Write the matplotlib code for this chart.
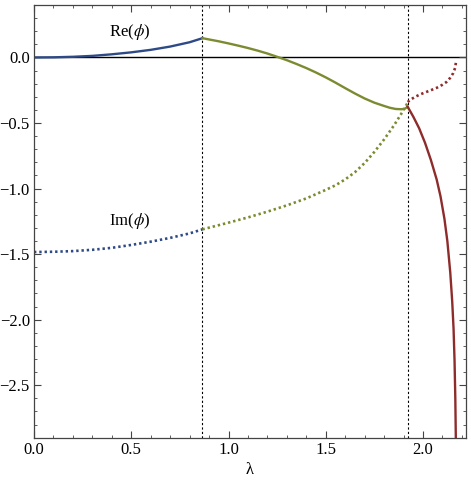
import matplotlib
matplotlib.use("Agg")
import matplotlib.pyplot as plt
from matplotlib.ticker import MultipleLocator, FuncFormatter

plt.rcParams['font.family'] = ['Liberation Serif', 'DejaVu Serif']
plt.rcParams['mathtext.fontset'] = 'stix'

# branch points (dotted verticals)
lam_a = 0.866
lam_b = 1.921

# blue branch, 0 .. lam_a
x_blue = [0.0, 0.1, 0.2, 0.3, 0.4, 0.5, 0.6, 0.7, 0.8, 0.866]
re_blue = [0.0, 0.001, 0.005, 0.012, 0.024, 0.039, 0.058, 0.083, 0.116, 0.147]
im_blue = [-1.484, -1.482, -1.477, -1.467, -1.452, -1.430, -1.405, -1.376, -1.342, -1.311]

# green branch, lam_a .. lam_b
x_green_re = [0.866, 0.95, 1.0, 1.05, 1.1, 1.15, 1.2, 1.25, 1.3, 1.35, 1.4, 1.45,
              1.5, 1.55, 1.6, 1.65, 1.7, 1.75, 1.8, 1.83, 1.86, 1.89, 1.905, 1.921]
re_green = [0.147, 0.123, 0.107, 0.090, 0.072, 0.052, 0.030, 0.005, -0.021, -0.050,
            -0.081, -0.115, -0.152, -0.192, -0.234, -0.275, -0.313, -0.345, -0.370,
            -0.384, -0.393, -0.395, -0.391, -0.378]
x_green_im = [0.866, 1.0, 1.1, 1.2, 1.3, 1.4, 1.5, 1.55, 1.6, 1.65, 1.7, 1.75,
              1.8, 1.85, 1.89, 1.921]
im_green = [-1.311, -1.260, -1.220, -1.176, -1.128, -1.075, -1.010, -0.975, -0.930,
            -0.875, -0.805, -0.720, -0.625, -0.520, -0.425, -0.345]

# red branch, lam_b .. end
x_red_re = [1.921, 1.95, 1.98, 2.01, 2.04, 2.07, 2.09, 2.11, 2.125, 2.14, 2.15,
            2.157, 2.162, 2.166, 2.169]
re_red = [-0.376, -0.452, -0.540, -0.650, -0.780, -0.930, -1.060, -1.230, -1.400,
          -1.640, -1.860, -2.070, -2.310, -2.600, -2.950]
x_red_im = [1.921, 1.94, 1.96, 1.985, 2.01, 2.04, 2.07, 2.10, 2.12, 2.14, 2.155,
            2.165, 2.170]
im_red = [-0.340, -0.318, -0.300, -0.282, -0.267, -0.250, -0.232, -0.208, -0.188,
          -0.155, -0.120, -0.080, -0.030]

blue = '#2e4a86'
green = '#7b8b30'
red = '#8e2b2b'
dots = (0, (0.9, 1.1))

fig = plt.figure(figsize=(4.71, 4.86), dpi=100)
ax = fig.add_axes([0.0722, 0.0994, 0.9168, 0.8903])

ax.axhline(0, color='black', lw=1.0, zorder=1)
for lv in (lam_a, lam_b):
    ax.axvline(lv, color='black', lw=0.8, ls=(0, (2, 2)), zorder=1)

ax.plot(x_blue, re_blue, color=blue, lw=1.7)
ax.plot(x_blue, im_blue, color=blue, lw=1.9, ls=dots)
ax.plot(x_green_re, re_green, color=green, lw=1.7)
ax.plot(x_green_im, im_green, color=green, lw=1.9, ls=dots)
ax.plot(x_red_re, re_red, color=red, lw=1.7)
ax.plot(x_red_im, im_red, color=red, lw=1.9, ls=dots)

ax.text(0.494, 0.193, r'Re($\phi$)', fontsize=12, ha='center', va='center')
ax.text(0.494, -1.25, r'Im($\phi$)', fontsize=12, ha='center', va='center')

ax.set_xlim(0, 2.22)
ax.set_ylim(-2.9, 0.4)
ax.set_xlabel('λ', fontsize=12, labelpad=3)

fmt = FuncFormatter(lambda v, p: ('%.1f' % v).replace('-', '\u2212'))
ax.xaxis.set_major_locator(MultipleLocator(0.5))
ax.xaxis.set_minor_locator(MultipleLocator(0.1))
ax.yaxis.set_major_locator(MultipleLocator(0.5))
ax.yaxis.set_minor_locator(MultipleLocator(0.1))
ax.xaxis.set_major_formatter(fmt)
ax.yaxis.set_major_formatter(fmt)
ax.tick_params(which='both', direction='in', top=True, right=True, color='#444444', labelsize=12)
ax.tick_params(which='major', length=5, width=0.8, pad=3)
ax.tick_params(which='minor', length=2.5, width=0.6)
for sp in ax.spines.values():
    sp.set_color('#444444')
    sp.set_linewidth(0.9)

fig.savefig('out.png', dpi=100)
